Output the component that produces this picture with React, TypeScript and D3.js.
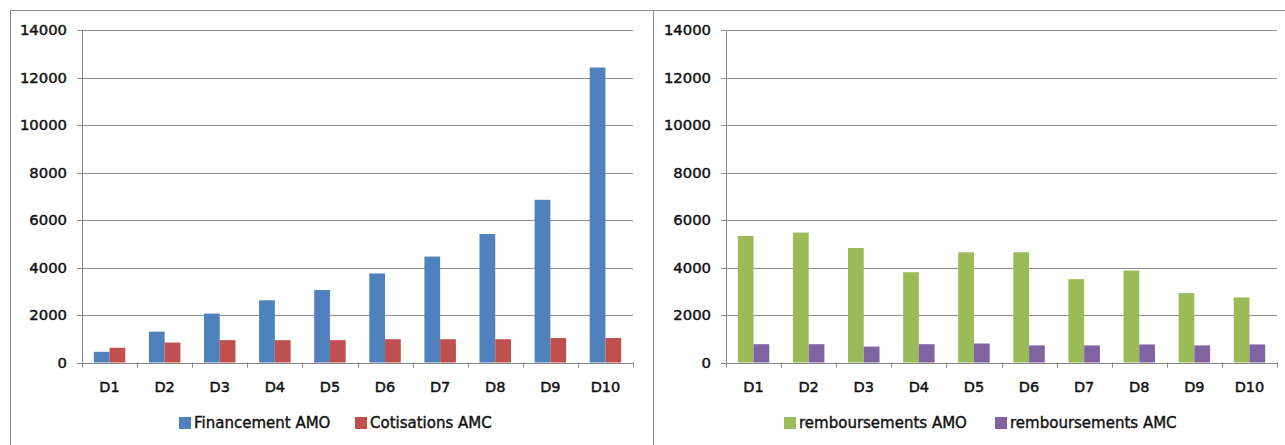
import React from "react";
import * as d3 from "d3";

// Deciles
const categories = ["D1", "D2", "D3", "D4", "D5", "D6", "D7", "D8", "D9", "D10"];

// Left panel: financing vs contributions
const financementAMO = [450, 1300, 2060, 2620, 3050, 3750, 4460, 5410, 6850, 12420];
const cotisationsAMC = [620, 840, 940, 940, 940, 980, 980, 980, 1030, 1030];

// Right panel: reimbursements
const remboursementsAMO = [5330, 5470, 4820, 3800, 4640, 4640, 3510, 3870, 2920, 2740];
const remboursementsAMC = [770, 770, 670, 770, 800, 720, 720, 760, 720, 760];

const yTicks = [0, 2000, 4000, 6000, 8000, 10000, 12000, 14000];

const FONT = "'DejaVu Sans', Verdana, sans-serif";
const AXIS_COLOR = "#868686";
const GRID_COLOR = "#8f8f8f";

type Series = { name: string; values: number[]; color: string };

type PanelProps = {
  axisX: number;
  plotRight: number;
  series: Series[];
  legendX: number[];
};

function Panel({ axisX, plotRight, series, legendX }: PanelProps) {
  const top = 30;
  const bottom = 362.5;
  const y = d3.scaleLinear().domain([0, 14000]).range([bottom, top]);
  const x = d3.scaleBand<string>().domain(categories).range([axisX, plotRight]).padding(0);
  const inner = d3
    .scaleBand<string>()
    .domain(series.map((s) => s.name))
    .range([0, x.bandwidth()])
    .paddingInner(0)
    .paddingOuter(0.75);

  const boundaries = categories.map((c) => x(c) as number).concat([plotRight]);

  return (
    <g>
      {/* gridlines + y ticks */}
      {yTicks.map((t) => (
        <g key={t}>
          <line
            x1={axisX - 5}
            x2={t === 0 ? axisX : plotRight}
            y1={Math.round(y(t)) + 0.5}
            y2={Math.round(y(t)) + 0.5}
            stroke={t === 0 ? AXIS_COLOR : GRID_COLOR}
            strokeWidth={1}
          />
          <text
            x={axisX - 15}
            y={y(t)}
            dy="0.36em"
            textAnchor="end"
            fontFamily={FONT}
            fontSize={14.8}
            fill="#111"
            stroke="#111"
            strokeWidth={0.45}
          >
            {t}
          </text>
        </g>
      ))}

      {/* bars */}
      {series.map((s) =>
        s.values.map((v, i) => {
          const cx = (x(categories[i]) as number) + (inner(s.name) as number);
          return (
            <rect
              key={s.name + i}
              x={cx}
              y={y(v)}
              width={inner.bandwidth()}
              height={y(0) - y(v)}
              fill={s.color}
            />
          );
        })
      )}

      {/* axes */}
      <line x1={axisX + 0.5} x2={axisX + 0.5} y1={top} y2={bottom} stroke={AXIS_COLOR} />
      <line x1={axisX} x2={plotRight} y1={Math.round(bottom) + 0.5} y2={Math.round(bottom) + 0.5} stroke={AXIS_COLOR} />
      {boundaries.map((b, i) => (
        <line
          key={i}
          x1={Math.round(b) + 0.5}
          x2={Math.round(b) + 0.5}
          y1={bottom}
          y2={bottom + 5}
          stroke={AXIS_COLOR}
        />
      ))}

      {/* category labels */}
      {categories.map((c) => (
        <text
          key={c}
          x={(x(c) as number) + x.bandwidth() / 2}
          y={392}
          textAnchor="middle"
          fontFamily={FONT}
          fontSize={14.5}
          fill="#111"
          stroke="#111"
          strokeWidth={0.45}
        >
          {c}
        </text>
      ))}

      {/* legend */}
      {series.map((s, i) => (
        <g key={s.name} transform={`translate(${legendX[i]},423)`}>
          <rect x={0} y={-6} width={12} height={12} fill={s.color} />
          <text
            x={15}
            y={0}
            dy="0.36em"
            fontFamily={FONT}
            fontSize={15}
            fill="#111"
            stroke="#111"
            strokeWidth={0.4}
          >
            {s.name}
          </text>
        </g>
      ))}
    </g>
  );
}

export default function App() {
  const left: Series[] = [
    { name: "Financement AMO", values: financementAMO, color: "#4F81BD" },
    { name: "Cotisations AMC", values: cotisationsAMC, color: "#C0504D" },
  ];
  const right: Series[] = [
    { name: "remboursements AMO", values: remboursementsAMO, color: "#9BBB59" },
    { name: "remboursements AMC", values: remboursementsAMC, color: "#8064A2" },
  ];
  return (
    <svg
      width={1285}
      height={445}
      style={{ position: "absolute", left: 0, top: 0, background: "#fff" }}
    >
      <rect x={0} y={0} width={1285} height={445} fill="#fff" />
      {/* panel frames */}
      <line x1={10} x2={1285} y1={10.5} y2={10.5} stroke="#8a8a8a" />
      <line x1={10.5} x2={10.5} y1={10} y2={445} stroke="#8a8a8a" />
      <line x1={653.5} x2={653.5} y1={10} y2={445} stroke="#8a8a8a" />

      <Panel axisX={82} plotRight={633} series={left} legendX={[179, 355]} />
      <Panel axisX={726} plotRight={1277} series={right} legendX={[784, 995]} />
    </svg>
  );
}
